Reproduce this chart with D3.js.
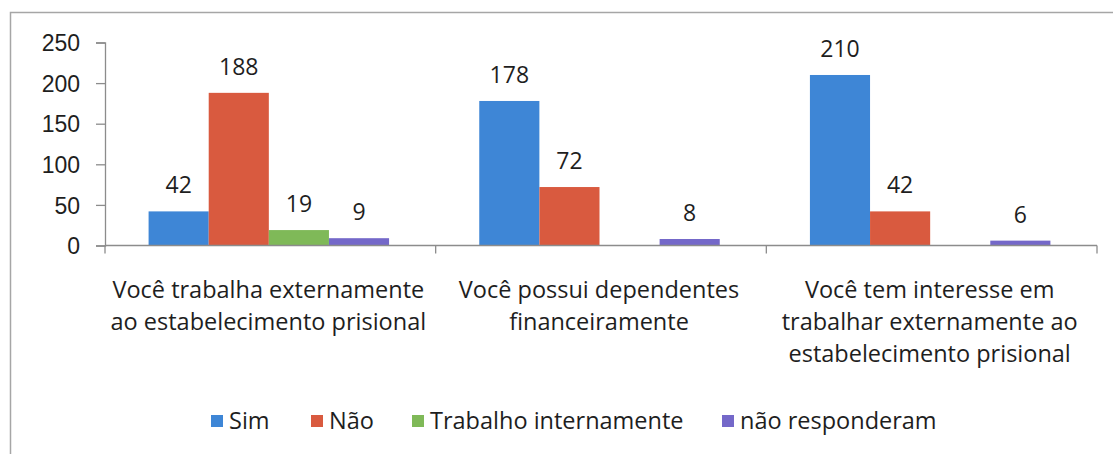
<!DOCTYPE html>
<html>
<head>
<meta charset="utf-8">
<script src="https://cdn.jsdelivr.net/npm/d3@7"></script>
<style>
  body { margin: 0; background: #fff; }
  svg { display: block; font-family: "Open Sans", "Liberation Sans", sans-serif; }
</style>
</head>
<body>
<svg id="chart" width="1113" height="454"></svg>
<script>
// data
const categories = [
  "Você trabalha externamente ao estabelecimento prisional",
  "Você possui dependentes financeiramente",
  "Você tem interesse em trabalhar externamente ao estabelecimento prisional"
];
const categoryLines = [
  ["Você trabalha externamente", "ao estabelecimento prisional"],
  ["Você possui dependentes", "financeiramente"],
  ["Você tem interesse em", "trabalhar externamente ao", "estabelecimento prisional"]
];
const seriesNames = ["Sim", "Não", "Trabalho internamente", "não responderam"];
const sim = [42, 178, 210];
const nao = [188, 72, 42];
const trabalhoInterno = [19, null, null];
const naoResponderam = [9, 8, 6];
const yTicks = [0, 50, 100, 150, 200, 250];

const colors = ["#3e86d6", "#d95a3f", "#7fb958", "#7468c9"];
const series = [sim, nao, trabalhoInterno, naoResponderam];
const textColor = "#1e1e1e";

const svg = d3.select("#chart");

// chart frame (left and top edges only, like the scan)
svg.append("path")
  .attr("d", "M10.5,454V12.5H1113")
  .attr("fill", "none")
  .attr("stroke", "#a6a6a6")
  .attr("stroke-width", 1.5);

const x0 = d3.scaleBand().domain(categories).range([105, 1097]).padding(0);
const x1 = d3.scaleBand().domain(seriesNames).range([-1.5, x0.bandwidth() - 1.5])
  .paddingInner(0).paddingOuter(0.75);
const y = d3.scaleLinear().domain([0, 250]).range([245.5, 42.5]);

// y axis
const yAxis = svg.append("g")
  .attr("transform", "translate(105,0)")
  .call(d3.axisLeft(y).tickValues(yTicks).tickSize(9).tickPadding(16));
yAxis.select(".domain").attr("stroke", "#8c8c8c").attr("stroke-width", 1.3);
yAxis.selectAll(".tick line").attr("stroke", "#8c8c8c").attr("stroke-width", 1.3);
yAxis.selectAll(".tick text")
  .attr("fill", textColor)
  .style("font-size", "23px")
  .attr("dy", "0.36em");

// bars
categories.forEach((cat, ci) => {
  const g = svg.append("g").attr("transform", `translate(${x0(cat)},0)`);
  series.forEach((vals, si) => {
    const v = vals[ci];
    if (v == null) return;
    g.append("rect")
      .attr("x", x1(seriesNames[si]))
      .attr("y", y(v))
      .attr("width", x1.bandwidth())
      .attr("height", y(0) - y(v))
      .attr("fill", colors[si]);
    g.append("text")
      .attr("x", x1(seriesNames[si]) + x1.bandwidth() / 2)
      .attr("y", y(v) - 18)
      .attr("text-anchor", "middle")
      .attr("fill", textColor)
      .style("font-size", "23px")
      .text(v);
  });
});

// x axis line with boundary ticks
const xAxis = svg.append("g");
xAxis.append("line")
  .attr("x1", x0.range()[0]).attr("x2", x0.range()[1])
  .attr("y1", y(0)).attr("y2", y(0))
  .attr("stroke", "#8c8c8c").attr("stroke-width", 1.3);
const bounds = categories.map(c => x0(c)).concat([x0.range()[1]]);
xAxis.selectAll("line.tick").data(bounds).join("line")
  .attr("class", "tick")
  .attr("x1", d => d).attr("x2", d => d)
  .attr("y1", y(0)).attr("y2", y(0) + 8)
  .attr("stroke", "#8c8c8c").attr("stroke-width", 1.3);

// category labels
categories.forEach((cat, ci) => {
  const t = svg.append("text")
    .attr("text-anchor", "middle")
    .attr("fill", textColor)
    .style("font-size", "23.5px");
  categoryLines[ci].forEach((line, li) => {
    t.append("tspan")
      .attr("x", x0(cat) + x0.bandwidth() / 2 - 2)
      .attr("y", 298 + li * 32)
      .text(line);
  });
});

// legend
const legendX = [211, 311, 412, 722];
const legend = svg.append("g");
seriesNames.forEach((name, i) => {
  legend.append("rect")
    .attr("x", legendX[i]).attr("y", 415)
    .attr("width", 12).attr("height", 12)
    .attr("fill", colors[i]);
  legend.append("text")
    .attr("x", legendX[i] + 18).attr("y", 429)
    .attr("fill", textColor)
    .style("font-size", "23.5px")
    .text(name);
});
</script>
</body>
</html>
